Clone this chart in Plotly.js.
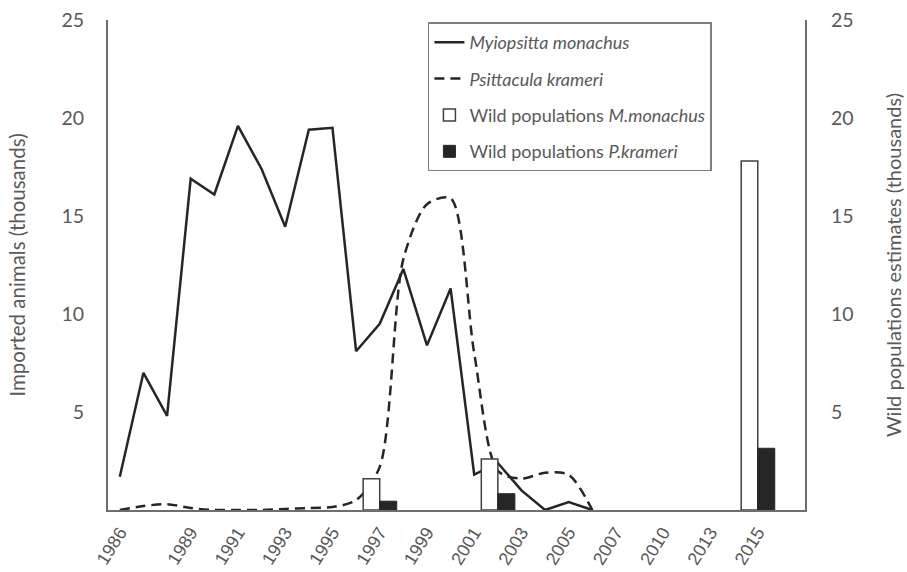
<!DOCTYPE html>
<html>
<head>
<meta charset="utf-8">
<script src="https://cdn.plot.ly/plotly-3.0.1.min.js"></script>
<style>html,body{margin:0;padding:0;background:#fff;}#chart{width:907px;height:572px;}</style>
</head>
<body>
<div id="chart"></div>
<script>
// Category axis (x)
var categories = ['1986','1987','1988','1989','1990','1991','1992','1993','1994','1995','1996','1997','1998','1999','2000','2001','2002','2003','2004','2005','2006','2007','2008','2010','2011','2013','2014','2015','2016'];
var tickLabels = ['1986','1989','1991','1993','1995','1997','1999','2001','2003','2005','2007','2010','2013','2015'];

// Imported animals (thousands)
var lineYears = ['1986','1987','1988','1989','1990','1991','1992','1993','1994','1995','1996','1997','1998','1999','2000','2001','2002','2003','2004','2005','2006'];
var monachusImports = [1.7, 7.0, 4.8, 16.9, 16.1, 19.6, 17.4, 14.45, 19.4, 19.5, 8.1, 9.5, 12.3, 8.4, 11.3, 1.8, 2.4, 1.0, 0, 0.4, 0];
var krameriImports = [0, 0.2, 0.3, 0.1, 0, 0, 0, 0.05, 0.1, 0.15, 0.5, 2.2, 12.8, 15.6, 15.9, 8.0, 2.0, 1.6, 1.9, 1.8, 0];

// Wild populations estimates (thousands)
var wildYears = ['1997','2002','2015'];
var wildMonachus = [1.6, 2.6, 17.8];
var wildKrameri = [0.45, 0.83, 3.15];

var yTicks = [5, 10, 15, 20, 25];

var textGray = '#595959';
var axisGray = '#6e6e6e';
var ink = '#262626';

var traces = [
  {
    x: lineYears, y: monachusImports, type: 'scatter', mode: 'lines',
    name: '<i>Myiopsitta monachus</i>', legendgroup: 'a',
    line: {color: ink, width: 2.5}
  },
  {
    x: lineYears, y: krameriImports, type: 'scatter', mode: 'lines',
    name: '<i>Psittacula krameri</i>', legendgroup: 'b',
    line: {color: ink, width: 2.5, dash: '10px,6px', shape: 'spline', smoothing: 0.8}
  },
  {
    x: wildYears, y: wildMonachus, type: 'bar', yaxis: 'y2',
    name: 'Wild populations <i>M.monachus</i>', legendgroup: 'c',
    width: 0.7, offset: -0.7,
    marker: {color: '#ffffff', line: {color: '#404040', width: 1.5}}
  },
  {
    x: wildYears, y: wildKrameri, type: 'bar', yaxis: 'y2',
    name: 'Wild populations <i>P.krameri</i>', legendgroup: 'd',
    width: 0.72, offset: 0,
    marker: {color: ink, line: {color: ink, width: 1}}
  }
];

var layout = {
  width: 907, height: 572,
  margin: {l: 108, r: 102, t: 20, b: 62},
  paper_bgcolor: '#ffffff', plot_bgcolor: '#ffffff',
  showlegend: true,
  font: {family: 'Lato, "Open Sans", sans-serif', color: textGray},
  xaxis: {
    type: 'category', categoryorder: 'array', categoryarray: categories,
    range: [-0.5, 29],
    tickmode: 'array', tickvals: tickLabels, ticktext: tickLabels,
    tickangle: -58,
    tickfont: {family: '"Liberation Sans", Arial, sans-serif', size: 18, color: textGray},
    showgrid: false, zeroline: false,
    showline: true, linecolor: axisGray, linewidth: 2,
    ticks: '', ticklabelstandoff: 3
  },
  yaxis: {
    range: [0, 25], tickmode: 'array', tickvals: yTicks,
    tickfont: {family: 'Lato, sans-serif', size: 19.5, color: textGray},
    showgrid: false, zeroline: false,
    showline: true, linecolor: axisGray, linewidth: 2,
    ticks: '', ticklabelstandoff: 18,
    title: {text: 'Imported animals (thousands)', font: {family: 'Lato, sans-serif', size: 20.5, color: textGray}, standoff: 30}
  },
  yaxis2: {
    overlaying: 'y', side: 'right',
    range: [0, 25], tickmode: 'array', tickvals: yTicks,
    tickfont: {family: 'Lato, sans-serif', size: 19.5, color: textGray},
    showgrid: false, zeroline: false,
    showline: true, linecolor: axisGray, linewidth: 2,
    ticks: '', ticklabelstandoff: 20,
    title: {text: 'Wild populations estimates (thousands)', font: {family: 'Lato, sans-serif', size: 20, color: textGray}, standoff: 34}
  },
  legend: {
    x: 0.459, y: 0.995, xanchor: 'left', yanchor: 'top',
    bgcolor: '#ffffff', bordercolor: '#7f7f7f', borderwidth: 1.5,
    font: {family: 'Lato, sans-serif', size: 18, color: textGray},
    tracegroupgap: 10, traceorder: 'grouped'
  }
};

Plotly.newPlot('chart', traces, layout, {displayModeBar: false, staticPlot: true});
</script>
</body>
</html>
